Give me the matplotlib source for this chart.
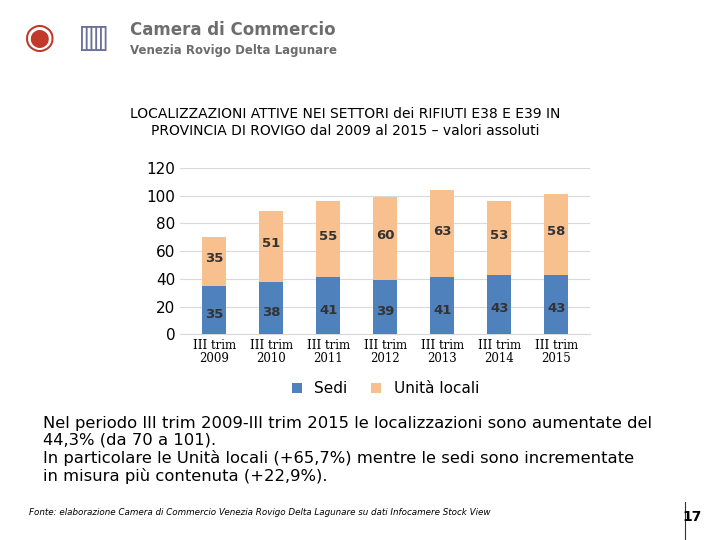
import matplotlib
matplotlib.use('Agg')
import matplotlib.pyplot as plt
import numpy as np

# data
periodi = ['III trim\n2009', 'III trim\n2010', 'III trim\n2011', 'III trim\n2012',
           'III trim\n2013', 'III trim\n2014', 'III trim\n2015']
sedi = [35, 38, 41, 39, 41, 43, 43]
unita_locali = [35, 51, 55, 60, 63, 53, 58]

blu = '#4F81BD'
pesca = '#F9C08F'

fig = plt.figure(figsize=(7.2, 5.4), dpi=100)

# intestazione (logo semplificato)
fig.text(0.18, 0.935, 'Camera di Commercio', fontsize=12, color='#6d6d6d', weight='bold')
fig.text(0.18, 0.9, 'Venezia Rovigo Delta Lagunare', fontsize=8.5, color='#6d6d6d', weight='bold')
fig.text(0.055, 0.93, '◉', fontsize=26, color='#c0392b', ha='center', va='center')
fig.text(0.13, 0.93, '▥', fontsize=24, color='#6b6f9a', ha='center', va='center')

fig.text(0.48, 0.773, 'LOCALIZZAZIONI ATTIVE NEI SETTORI dei RIFIUTI E38 E E39 IN\n'
         'PROVINCIA DI ROVIGO dal 2009 al 2015 – valori assoluti',
         ha='center', va='center', fontsize=10, linespacing=1.25)

ax = fig.add_axes([0.25, 0.381, 0.57, 0.308])
x = np.arange(len(periodi))
w = 0.42
ax.bar(x, sedi, w, color=blu, label='Sedi', zorder=3)
ax.bar(x, unita_locali, w, bottom=sedi, color=pesca, label='Unità locali', zorder=3)
for i in range(len(x)):
    ax.text(x[i], sedi[i] / 2 - 3, str(sedi[i]), ha='center', va='center', fontsize=9.5,
            color='#333333', weight='semibold')
    ax.text(x[i], sedi[i] + unita_locali[i] / 2 + 2, str(unita_locali[i]), ha='center', va='center',
            fontsize=9.5, color='#333333', weight='semibold')

ax.set_ylim(0, 120)
ax.set_yticks(range(0, 121, 20))
ax.set_xlim(-0.6, len(x) - 0.4)
ax.set_xticks(x)
ax.set_xticklabels(periodi, fontsize=8.5, family='DejaVu Serif', linespacing=1.0)
ax.tick_params(axis='y', labelsize=11, length=0)
ax.tick_params(axis='x', length=0)
ax.grid(axis='y', color='#d9d9d9', lw=0.8, zorder=0)
for s in ['top', 'right', 'left']:
    ax.spines[s].set_visible(False)
ax.spines['bottom'].set_color('#d9d9d9')
ax.legend(loc='upper center', bbox_to_anchor=(0.5, -0.2), ncol=2, frameon=False, fontsize=11,
          handlelength=0.7, handleheight=0.7, columnspacing=1.5)

fig.text(0.06, 0.11,
         'Nel periodo III trim 2009-III trim 2015 le localizzazioni sono aumentate del\n'
         '44,3% (da 70 a 101).\n'
         'In particolare le Unità locali (+65,7%) mentre le sedi sono incrementate\n'
         'in misura più contenuta (+22,9%).',
         fontsize=11.8, linespacing=1.15)
fig.text(0.04, 0.047, 'Fonte: elaborazione Camera di Commercio Venezia Rovigo Delta Lagunare su dati Infocamere Stock View',
         fontsize=6.3, style='italic')
fig.text(0.975, 0.035, '17', fontsize=10, weight='bold', ha='right')
fig.add_artist(plt.Line2D([0.952, 0.952], [0.0, 0.07], color='#333333', lw=0.8))

fig.savefig('out.png', dpi=100)
